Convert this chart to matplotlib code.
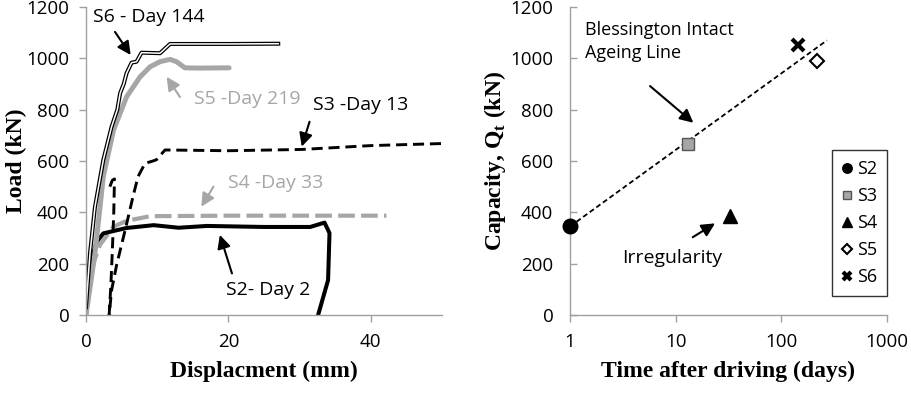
import matplotlib
matplotlib.use("Agg")
import matplotlib.pyplot as plt

plt.rcParams['font.family'] = ['Open Sans', 'DejaVu Sans']
plt.rcParams['mathtext.fontset'] = 'custom'
plt.rcParams['mathtext.rm'] = 'Liberation Serif:bold'
plt.rcParams['mathtext.bf'] = 'Liberation Serif:bold'

# ---------------- Data: load-displacement curves ----------------
s6_disp = [0, 0.56, 1.26, 2.43, 3.6, 4.4, 4.8, 5.3, 5.7, 6.4, 7.1, 7.8, 10.4, 11.8, 20, 27]
s6_load = [30, 240, 421, 604, 734, 800, 865, 900, 942, 983, 987, 1022, 1020, 1056, 1056, 1057]

s5_disp = [0, 1.26, 2.43, 3.86, 5.7, 7.6, 9.0, 10.4, 11.8, 12.7, 13.9, 16, 20.1]
s5_load = [0, 240, 539, 720, 850, 928, 967, 987, 996, 987, 963, 962, 963]

s3_disp = [3.35, 3.7, 4.0, 3.9, 3.7, 3.5, 3.25, 3.6, 4.3, 5.5, 6.6, 7.3, 8.3, 9.4, 9.9, 11.1, 20, 30.3, 40, 50]
s3_load = [500, 525, 530, 400, 250, 120, 0, 97, 195, 331, 461, 539, 591, 600, 605, 643, 640, 645, 660, 668]

s4_disp = [0, 1.03, 1.96, 3.86, 5.7, 9.0, 20, 42.2]
s4_load = [0, 201, 273, 344, 367, 385, 387, 387]

s2_disp = [0, 0.6, 1.0, 1.5, 2.43, 5.7, 9.5, 13, 17, 25, 31.5, 33.5, 34.2, 34.0, 32.6]
s2_load = [0, 160, 240, 285, 318, 339, 350, 340, 347, 343, 343, 360, 319, 136, 0]

disp_ticks = [0, 20, 40]
load_ticks = [0, 200, 400, 600, 800, 1000, 1200]

# ---------------- Data: capacity vs time ----------------
piles = ['S2', 'S3', 'S4', 'S5', 'S6']
days = [1, 13, 33, 219, 144]
capacity = [345, 668, 385, 990, 1050]
ageing_t = [1, 270]
ageing_q = [345, 1070]
time_ticks = [1, 10, 100, 1000]

grey = '#a6a6a6'
spine_c = '#a0a0a0'

fig = plt.figure(figsize=(9.12, 3.94), dpi=100)
ax1 = fig.add_axes([86/912, 1-315/394, (442-86)/912, (315-7)/394])
ax2 = fig.add_axes([570/912, 1-315/394, (887-570)/912, (315-7)/394])

for ax in (ax1, ax2):
    for s in ('top', 'right'):
        ax.spines[s].set_visible(False)
    for s in ('left', 'bottom'):
        ax.spines[s].set_color(spine_c)
        ax.spines[s].set_linewidth(1.0)
    ax.tick_params(colors=spine_c, labelcolor='black', labelsize=13.5, length=5, width=1.0)

# ---- Left chart ----
ax1.plot(s4_disp, s4_load, color=grey, lw=3.0, dashes=(4.0, 1.5))
ax1.plot(s2_disp, s2_load, color='black', lw=2.9, solid_capstyle='round', solid_joinstyle='round')
ax1.plot(s3_disp, s3_load, color='black', lw=2.1, dashes=(3.8, 2.0))
ax1.plot(s5_disp, s5_load, color=grey, lw=3.6, solid_capstyle='round', solid_joinstyle='round')
ax1.plot(s6_disp, s6_load, color='black', lw=2.9)
ax1.plot(s6_disp, s6_load, color='white', lw=1.1)

ax1.set_xlim(0, 50)
ax1.set_ylim(0, 1200)
ax1.set_xticks(disp_ticks)
ax1.set_yticks(load_ticks)
ax1.tick_params(direction='out')
ax1.tick_params(axis='y', pad=7)
ax1.tick_params(axis='x', pad=8)
ax1.set_xlabel('Displacment (mm)', family='Liberation Serif', weight='bold', fontsize=17)
ax1.set_ylabel('Load (kN)', family='Liberation Serif', weight='bold', fontsize=17)
ax1.xaxis.set_label_coords(0.5, (315 - 371.7) / 308)
ax1.xaxis.label.set_va('center')
ax1.yaxis.set_label_coords((16 - 86) / 356, 0.5)
ax1.yaxis.label.set_va('center')

arr = dict(arrowstyle='-|>,head_length=0.8,head_width=0.4', lw=1.5, mutation_scale=10,
           shrinkA=0, shrinkB=0)
fs_ann = 14

def arrow(ax, start, end, color):
    ax.annotate('', xy=end, xytext=start, arrowprops=dict(color=color, **arr))

ax1.text(0.98, 1161, 'S6 - Day 144', fontsize=fs_ann, va='center', ha='left')
arrow(ax1, (4.07, 1103), (6.27, 1013), 'black')
ax1.text(15.2, 842, 'S5 -Day 219', fontsize=fs_ann, color=grey, va='center', ha='left')
arrow(ax1, (13.2, 849), (11.33, 928), grey)
ax1.text(31.9, 818, 'S3 -Day 13', fontsize=fs_ann, va='center', ha='left')
arrow(ax1, (31.4, 753), (30.3, 656), 'black')
ax1.text(19.9, 514, 'S4 -Day 33', fontsize=fs_ann, color=grey, va='center', ha='left')
arrow(ax1, (17.9, 500), (16.2, 422), grey)
ax1.text(19.7, 97, 'S2- Day 2', fontsize=fs_ann, va='center', ha='left')
arrow(ax1, (20.5, 162), (18.8, 312), 'black')

# ---- Right chart ----
ax2.set_xscale('log')
ax2.plot(ageing_t, ageing_q, color='black', lw=1.3, dashes=(2.8, 1.7), zorder=1)
styles = {
    'S2': dict(marker='o', mfc='black', mec='black', ms=10.5),
    'S3': dict(marker='s', mfc='#a6a6a6', mec='#555555', ms=9),
    'S4': dict(marker='^', mfc='black', mec='black', ms=10.5),
    'S5': dict(marker='D', mfc='white', mec='black', ms=7.5, mew=1.5),
    'S6': dict(marker='x', mfc='black', mec='black', ms=8.5, mew=3.0),
}
for p, t, q in zip(piles, days, capacity):
    ax2.plot([t], [q], ls='none', label=p, clip_on=False, zorder=3, **styles[p])

ax2.set_xlim(1, 1000)
ax2.set_ylim(0, 1200)
ax2.set_xticks(time_ticks)
ax2.set_xticklabels([str(t) for t in time_ticks])
ax2.minorticks_off()
ax2.set_yticks(load_ticks)
ax2.tick_params(axis='y', direction='in', pad=12)
ax2.tick_params(axis='x', direction='out', pad=8)
ax2.set_xlabel('Time after driving (days)', family='Liberation Serif', weight='bold', fontsize=17)
ax2.set_ylabel('Capacity, Q$_\\mathrm{t}$ (kN)', family='Liberation Serif', weight='bold', fontsize=17)
ax2.xaxis.set_label_coords(0.5, (315 - 371.7) / 308)
ax2.xaxis.label.set_va('center')
ax2.yaxis.set_label_coords((495 - 570) / 317, 0.5)
ax2.yaxis.label.set_va('center')

ax2.text(1.39, 1067, 'Blessington Intact\nAgeing Line', fontsize=13, va='center', ha='left',
         linespacing=1.35)
arrow(ax2, (5.72, 892), (14.7, 749), 'black')
ax2.text(9.33, 221, 'Irregularity', fontsize=fs_ann, va='center', ha='center')
arrow(ax2, (14.5, 303), (23.6, 357), 'black')

handles, labels = ax2.get_legend_handles_labels()
leg = ax2.legend(handles, labels, loc='upper left',
                 bbox_to_anchor=((832 - 570) / 317, 1 - (150 - 7) / 308),
                 frameon=True, fancybox=False, edgecolor='black', fontsize=13,
                 handlelength=0.6, handletextpad=0.25, labelspacing=0.5, borderpad=0.55,
                 borderaxespad=0, markerscale=0.65)
leg.get_frame().set_linewidth(1.0)

fig.savefig('out.png', dpi=100)
